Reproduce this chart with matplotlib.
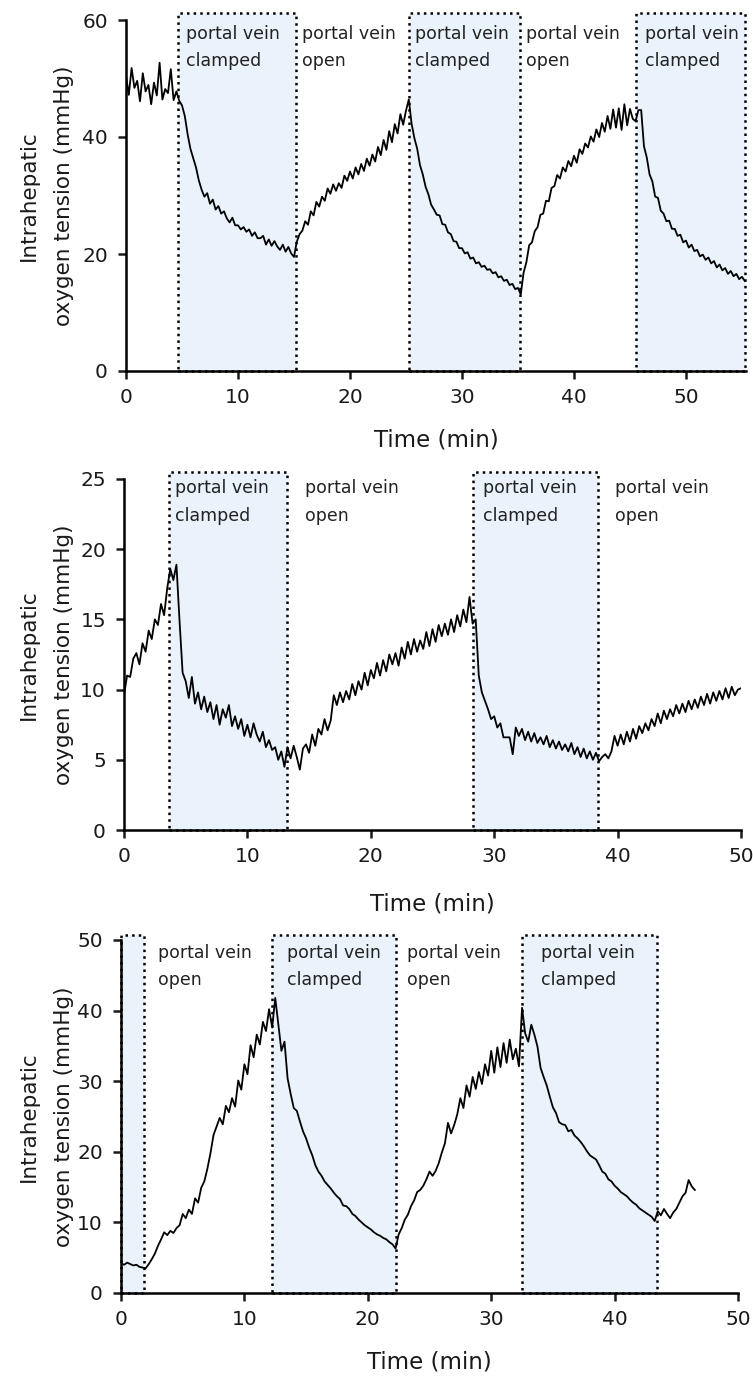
import numpy as np
import matplotlib.pyplot as plt
from matplotlib.patches import Rectangle

# sampling interval of the traces (min)
STEP = 0.25

# panel A: intrahepatic pO2 (mmHg), one value every STEP min
oxy_a = [
    50.5, 47.2, 51.8, 48.4, 49.6, 46.1, 50.9, 47.8,
    48.9, 45.6, 49.3, 47.1, 52.7, 46.4, 48.2, 47.5,
    51.6, 46.3, 47.8, 46.2, 45.4, 43.6, 40.5, 38.0,
    36.4, 34.8, 32.6, 31.0, 29.8, 30.4, 28.6, 29.3,
    27.6, 28.2, 26.9, 27.3, 26.1, 25.4, 26.2, 24.9,
    24.9, 24.2, 24.6, 23.8, 24.2, 23.1, 23.7, 22.7,
    22.7, 23.1, 21.6, 22.5, 21.4, 22.2, 21.3, 20.7,
    21.6, 20.4, 21.2, 20.1, 19.5, 22.1, 23.4, 24.0,
    25.6, 25.0, 27.3, 26.6, 28.9, 28.1, 29.8, 29.1,
    31.2, 30.3, 31.9, 30.8, 32.1, 31.3, 33.4, 32.5,
    34.1, 32.9, 34.8, 33.6, 35.4, 34.2, 36.3, 35.1,
    37.0, 35.8, 38.3, 36.9, 39.5, 37.8, 41.0, 39.1,
    42.2, 40.6, 43.9, 42.1, 44.5, 46.4, 42.3, 39.8,
    38.0, 35.2, 33.6, 31.5, 30.2, 28.4, 27.6, 26.7,
    26.6, 25.1, 25.0, 23.7, 23.4, 22.2, 22.1, 21.0,
    21.0, 20.1, 20.3, 19.2, 19.4, 18.4, 18.6, 17.8,
    18.0, 17.3, 17.4, 16.7, 16.9, 16.0, 16.2, 15.4,
    15.6, 14.7, 14.9, 14.0, 14.2, 13.1, 16.8, 18.6,
    21.5, 22.0, 23.9, 24.6, 26.7, 26.9, 29.1, 29.0,
    31.3, 31.6, 33.5, 32.9, 34.8, 34.1, 35.9, 35.0,
    36.8, 35.6, 37.9, 37.1, 38.9, 38.2, 40.1, 39.2,
    41.3, 40.0, 42.4, 40.9, 43.6, 41.4, 44.7, 41.6,
    44.9, 41.2, 45.6, 42.0, 44.8, 43.1, 42.7, 44.6,
    44.6, 38.4, 36.5, 33.6, 32.4, 29.8, 29.6, 27.4,
    26.9, 25.6, 25.7, 24.3, 24.3, 23.1, 23.3, 22.0,
    22.3, 21.1, 21.6, 20.5, 20.7, 19.6, 19.9, 19.0,
    19.4, 18.4, 18.8, 17.7, 18.2, 17.2, 17.6, 16.6,
    17.1, 16.2, 16.6, 15.7, 16.1, 15.4,
]

# panel B
oxy_b = [
    9.6, 11.0, 10.9, 12.2, 12.6, 11.8, 13.3, 12.7,
    14.2, 13.6, 15.0, 14.6, 16.1, 15.3, 17.2, 18.6,
    17.8, 18.9, 14.9, 11.2, 10.6, 9.4, 10.9, 9.0,
    9.8, 8.6, 9.5, 8.4, 9.1, 7.9, 8.9, 7.5,
    8.6, 8.0, 8.9, 7.4, 8.1, 7.2, 7.9, 6.7,
    7.5, 6.6, 7.6, 6.8, 6.3, 7.0, 5.9, 6.4,
    5.7, 5.9, 5.0, 5.6, 4.5, 5.9, 5.1, 6.0,
    5.2, 4.3, 5.8, 6.1, 5.5, 6.8, 6.0, 7.2,
    6.8, 7.9, 7.1, 7.8, 9.6, 8.9, 9.8, 9.1,
    9.9, 9.3, 10.4, 9.6, 10.6, 10.0, 11.2, 10.3,
    11.4, 10.8, 11.9, 11.0, 12.1, 11.3, 12.5, 11.8,
    12.6, 11.7, 13.0, 12.2, 13.4, 12.5, 13.6, 12.7,
    13.5, 12.9, 14.1, 13.1, 14.3, 13.4, 14.6, 13.8,
    14.7, 13.9, 15.0, 14.1, 15.3, 14.5, 15.7, 14.8,
    16.6, 14.7, 15.0, 11.0, 9.8, 9.2, 8.6, 7.9,
    8.1, 7.3, 7.6, 6.6, 6.6, 6.6, 5.4, 7.3,
    6.7, 7.2, 6.4, 7.0, 6.3, 6.9, 6.2, 6.6,
    6.1, 6.7, 5.9, 6.4, 5.8, 6.3, 5.7, 6.1,
    5.6, 6.2, 5.4, 5.9, 5.2, 5.8, 5.1, 5.6,
    5.0, 5.5, 4.9, 5.2, 5.4, 5.1, 5.6, 6.7,
    6.0, 6.8, 6.1, 7.0, 6.3, 7.2, 6.5, 7.4,
    6.9, 7.6, 7.1, 7.9, 7.4, 8.3, 7.6, 8.5,
    7.9, 8.6, 8.1, 8.9, 8.3, 9.0, 8.4, 9.2,
    8.6, 9.3, 8.7, 9.5, 8.9, 9.7, 9.0, 9.8,
    9.2, 9.9, 9.3, 10.1, 9.4, 10.2, 9.6, 10.0,
    10.1,
]

# panel C
oxy_c = [
    4.2, 4.0, 4.3, 4.1, 3.9, 4.0, 3.7, 3.6,
    3.5, 4.1, 4.8, 5.6, 6.7, 7.6, 8.6, 8.2,
    8.8, 8.5, 9.2, 9.6, 11.2, 10.6, 11.8, 11.2,
    13.4, 12.8, 14.9, 15.8, 17.6, 19.8, 22.4, 23.6,
    24.8, 23.9, 26.5, 25.6, 27.6, 26.4, 30.1, 28.8,
    32.4, 31.0, 35.1, 33.4, 36.6, 35.2, 38.4, 37.1,
    40.2, 37.6, 41.8, 38.1, 34.3, 35.6, 30.4, 28.2,
    26.2, 25.8, 24.3, 22.9, 21.9, 20.6, 19.5, 18.1,
    17.2, 16.6, 15.8, 15.3, 14.8, 14.2, 13.7, 13.3,
    12.4, 12.3, 11.9, 11.2, 10.9, 10.4, 10.0, 9.6,
    9.3, 9.0, 8.6, 8.3, 8.1, 7.8, 7.6, 7.2,
    6.9, 6.3, 8.3, 9.2, 10.4, 11.1, 12.3, 13.1,
    14.3, 14.6, 15.2, 16.1, 17.2, 16.6, 17.3, 18.4,
    19.9, 21.2, 24.1, 22.6, 23.8, 25.3, 27.6, 26.2,
    29.4, 27.8, 30.6, 28.9, 31.3, 29.6, 32.4, 30.8,
    34.3, 31.2, 34.8, 32.0, 35.4, 32.6, 35.9, 33.1,
    34.6, 32.1, 40.4, 36.8, 35.6, 38.0, 36.6, 34.9,
    31.9, 30.6, 29.4, 27.8, 26.3, 25.5, 24.2, 23.9,
    23.8, 22.9, 23.1, 22.3, 21.9, 21.4, 20.8, 20.1,
    19.5, 19.2, 18.9, 18.1, 17.2, 16.9, 16.1, 15.8,
    15.2, 14.8, 14.3, 14.0, 13.7, 13.2, 12.8, 12.5,
    12.0, 11.7, 11.4, 11.1, 10.8, 10.2, 11.6, 11.0,
    11.9, 11.2, 10.6, 11.4, 11.9, 12.8, 13.7, 14.2,
    16.0, 15.1, 14.6,
]

# clamping periods (start, end) in min
clamp_a = [(4.6, 15.15), (25.3, 35.2), (45.5, 55.3)]
clamp_b = [(3.65, 13.2), (28.25, 38.45)]
clamp_c = [(0.0, 1.9), (12.2, 22.25), (32.5, 43.4)]

# phase labels (x position in min)
notes_a = [(5.4, "portal vein\nclamped"), (15.7, "portal vein\nopen"),
           (25.8, "portal vein\nclamped"), (35.7, "portal vein\nopen"),
           (46.3, "portal vein\nclamped")]
notes_b = [(4.1, "portal vein\nclamped"), (14.7, "portal vein\nopen"),
           (29.1, "portal vein\nclamped"), (39.8, "portal vein\nopen")]
notes_c = [(3.0, "portal vein\nopen"), (13.45, "portal vein\nclamped"),
           (23.2, "portal vein\nopen"), (34.0, "portal vein\nclamped")]

xticks = [0, 10, 20, 30, 40, 50]
yticks_a = [0, 20, 40, 60]
yticks_b = [0, 5, 10, 15, 20, 25]
yticks_c = [0, 10, 20, 30, 40, 50]

plt.rcParams['font.family'] = ['DejaVu Sans']
W, H = 753, 1376
fig = plt.figure(figsize=(W / 100, H / 100), dpi=100)

FILL = '#eaf2fb'


def panel(rect_px, oxy, clamps, box_top, xmax, ymax, yticks, notes, note_y, xlab_off):
    l, t, r, b = rect_px
    ax = fig.add_axes([l / W, 1 - b / H, (r - l) / W, (b - t) / H])
    for (c0, c1) in clamps:
        ax.add_patch(Rectangle((c0, 0), c1 - c0, box_top, facecolor=FILL,
                               edgecolor='black', lw=1.8, ls=':', zorder=1,
                               clip_on=False))
    tt = np.arange(len(oxy)) * STEP
    ax.plot(tt, oxy, color='black', lw=1.3, zorder=3)
    for (x, s) in notes:
        ax.text(x, note_y, s, fontsize=12.5, va='top', ha='left',
                linespacing=1.7, color='#222222', zorder=4)
    ax.set_xlim(0, xmax)
    ax.set_ylim(0, ymax)
    ax.set_xticks(xticks)
    ax.set_yticks(yticks)
    for s in ['top', 'right']:
        ax.spines[s].set_visible(False)
    for s in ['left', 'bottom']:
        ax.spines[s].set_linewidth(1.8)
        ax.spines[s].set_zorder(5)
    ax.tick_params(direction='out', length=6, width=1.8, labelsize=14.5,
                   pad=6.5, colors='#1a1a1a')
    ax.tick_params(axis='y', pad=7)
    ax.set_xlabel('Time (min)', fontsize=16.5, color='#1a1a1a')
    ax.xaxis.set_label_coords(0.5, -xlab_off / (b - t))
    ax.xaxis.label.set_va('center')
    ax.set_ylabel('Intrahepatic\noxygen tension (mmHg)', fontsize=15.5,
                  linespacing=1.95, color='#1a1a1a')
    ax.yaxis.set_label_coords(-(l - 46) / (r - l), 0.5)
    ax.yaxis.label.set_va('center')
    return ax


panel((126, 20, 746, 371), oxy_a, clamp_a, 61.2, 55.36, 60, yticks_a,
      notes_a, 59.2, 69)
panel((124, 479, 741, 830), oxy_b, clamp_b, 25.5, 50, 25, yticks_b,
      notes_b, 25.0, 74)
panel((121, 940, 738, 1293), oxy_c, clamp_c, 50.7, 50, 50, yticks_c,
      notes_c, 49.5, 69)

fig.savefig('out.png', dpi=100)
